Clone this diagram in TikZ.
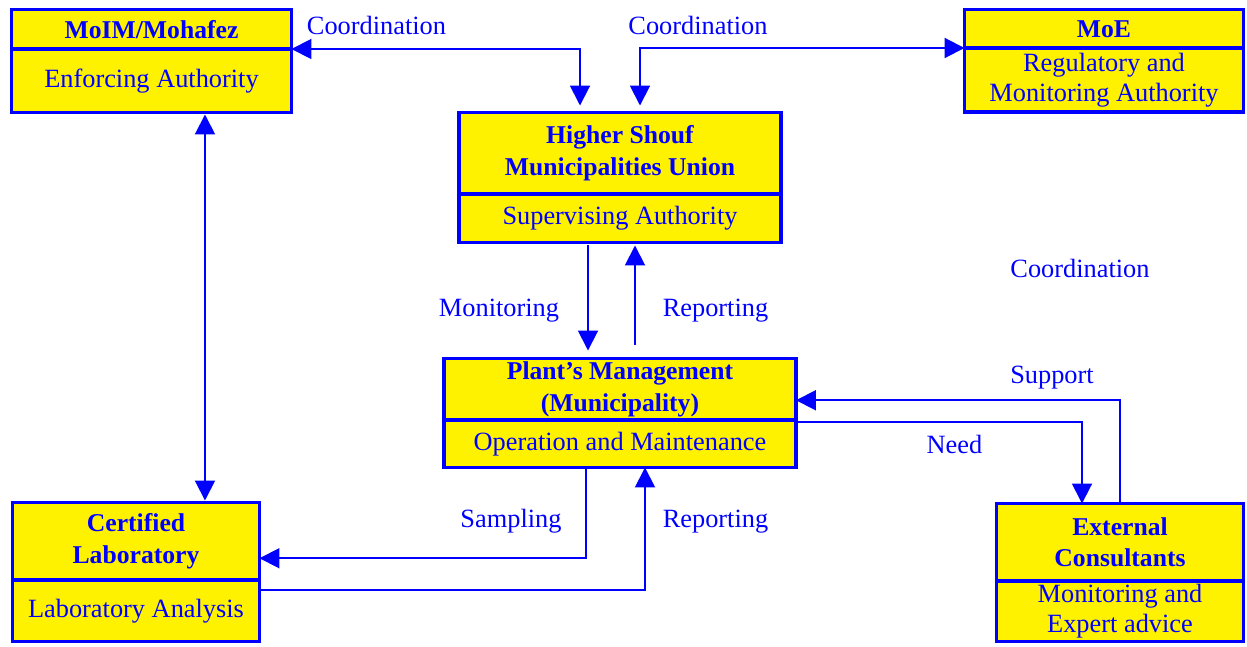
\documentclass[tikz,border=0pt]{standalone}
\usepackage{fontspec}
\setmainfont{Liberation Serif}
\usepackage{tikz}
\usetikzlibrary{arrows.meta,positioning}

\begin{document}
\begin{tikzpicture}[x=0.02cm,y=-0.02cm,font=\fontsize{15}{17}\selectfont]
%\draw[help lines] (0,0) grid (1247,646);
\tikzset{
box/.style	= {draw=blue, line width=2pt, fill=yellow, text=blue,
		   align=center, inner sep=0pt, outer sep=0pt},
head/.style	= {box, font=\bfseries\fontsize{14.6}{18}\selectfont},
body/.style	= {box},
link/.style	= {draw=blue, line width=1.1pt,
		   >={Triangle[length=0.4cm,width=0.4cm]}},
lbl/.style	= {text=blue, anchor=base, inner sep=0pt}
}
\useasboundingbox (0,0) rectangle (1247,646);

% boxes
\node[head, minimum width=5.6cm, minimum height=0.79cm] (moim-head) at (151.5,29.25) {MoIM/Mohafez};
\node[body, minimum width=5.6cm, minimum height=1.27cm, below=0pt of moim-head] (moim-body) {Enforcing Authority};

\node[head, minimum width=5.58cm, minimum height=0.77cm] (moe-head) at (1104,28.75) {MoE};
\node[body, minimum width=5.58cm, minimum height=1.28cm, below=0pt of moe-head] (moe-body) {Regulatory and\\Monitoring Authority};

\node[head, minimum width=6.44cm, minimum height=1.63cm] (union-head) at (620,153.25) {Higher Shouf\\Municipalities Union};
\node[body, minimum width=6.44cm, minimum height=0.97cm, below=0pt of union-head] (union-body) {Supervising Authority};

\node[head, minimum width=7.04cm, minimum height=1.23cm] (plant-head) at (620,389.25) {Plant’s Management\\(Municipality)};
\node[body, minimum width=7.04cm, minimum height=0.95cm, below=0pt of plant-head] (plant-body) {Operation and Maintenance};

\node[head, minimum width=4.94cm, minimum height=1.55cm] (lab-head) at (136,541.25) {Certified\\Laboratory};
\node[body, minimum width=4.94cm, minimum height=1.23cm, below=0pt of lab-head] (lab-body) {Laboratory Analysis};

\node[head, minimum width=4.94cm, minimum height=1.55cm] (ext-head) at (1120,542.25) {External\\Consultants};
\node[body, minimum width=4.94cm, minimum height=1.21cm, below=0pt of ext-head] (ext-body) {Monitoring and\\Expert advice};

% connectors
\draw[link,<->,shorten >=0.14cm] (moim-head.south east) -| ([xshift=-0.8cm]union-head.north);
\draw[link,<->,shorten <=0.14cm] ([xshift=0.4cm]union-head.north) |- (moe-head.south west);
\draw[link,<->,shorten <=0.04cm,shorten >=0.04cm] ([xshift=1.07cm]moim-body.south) -- ([xshift=1.38cm]lab-head.north);

\draw[link,->,shorten <=0.06cm,shorten >=0.16cm] ([xshift=-0.64cm]union-body.south) -- ([xshift=-0.64cm]plant-head.north);
\draw[link,->,shorten <=0.28cm,shorten >=0.06cm] ([xshift=0.3cm]plant-head.north) -- ([xshift=0.3cm]union-body.south);

\draw[link,->] (ext-head.north) |- ([yshift=-0.22cm]plant-head.east);
\draw[link,->] ([yshift=-0.04cm]plant-body.north east) -| ([xshift=-0.76cm]ext-head.north);

\draw[link,->] ([xshift=-0.68cm]plant-body.south) |- ([yshift=-0.34cm]lab-head.east);
\draw[link,->] ([yshift=0.41cm]lab-body.east) -| ([xshift=0.5cm]plant-body.south);

% labels
\node[lbl] (lbl-coord-l) at (376.5,34) {Coordination};
\node[lbl] (lbl-coord-r) at (698,34) {Coordination};
\node[lbl] (lbl-coord-e) at (1080,277) {Coordination};
\node[lbl] (lbl-monitor) at (499,316) {Monitoring};
\node[lbl] (lbl-report-u) at (715.5,316) {Reporting};
\node[lbl] (lbl-support) at (1052,383) {Support};
\node[lbl] (lbl-need) at (954.5,453) {Need};
\node[lbl] (lbl-sampling) at (511,527) {Sampling};
\node[lbl] (lbl-report-l) at (715.5,527) {Reporting};
\end{tikzpicture}
\end{document}
